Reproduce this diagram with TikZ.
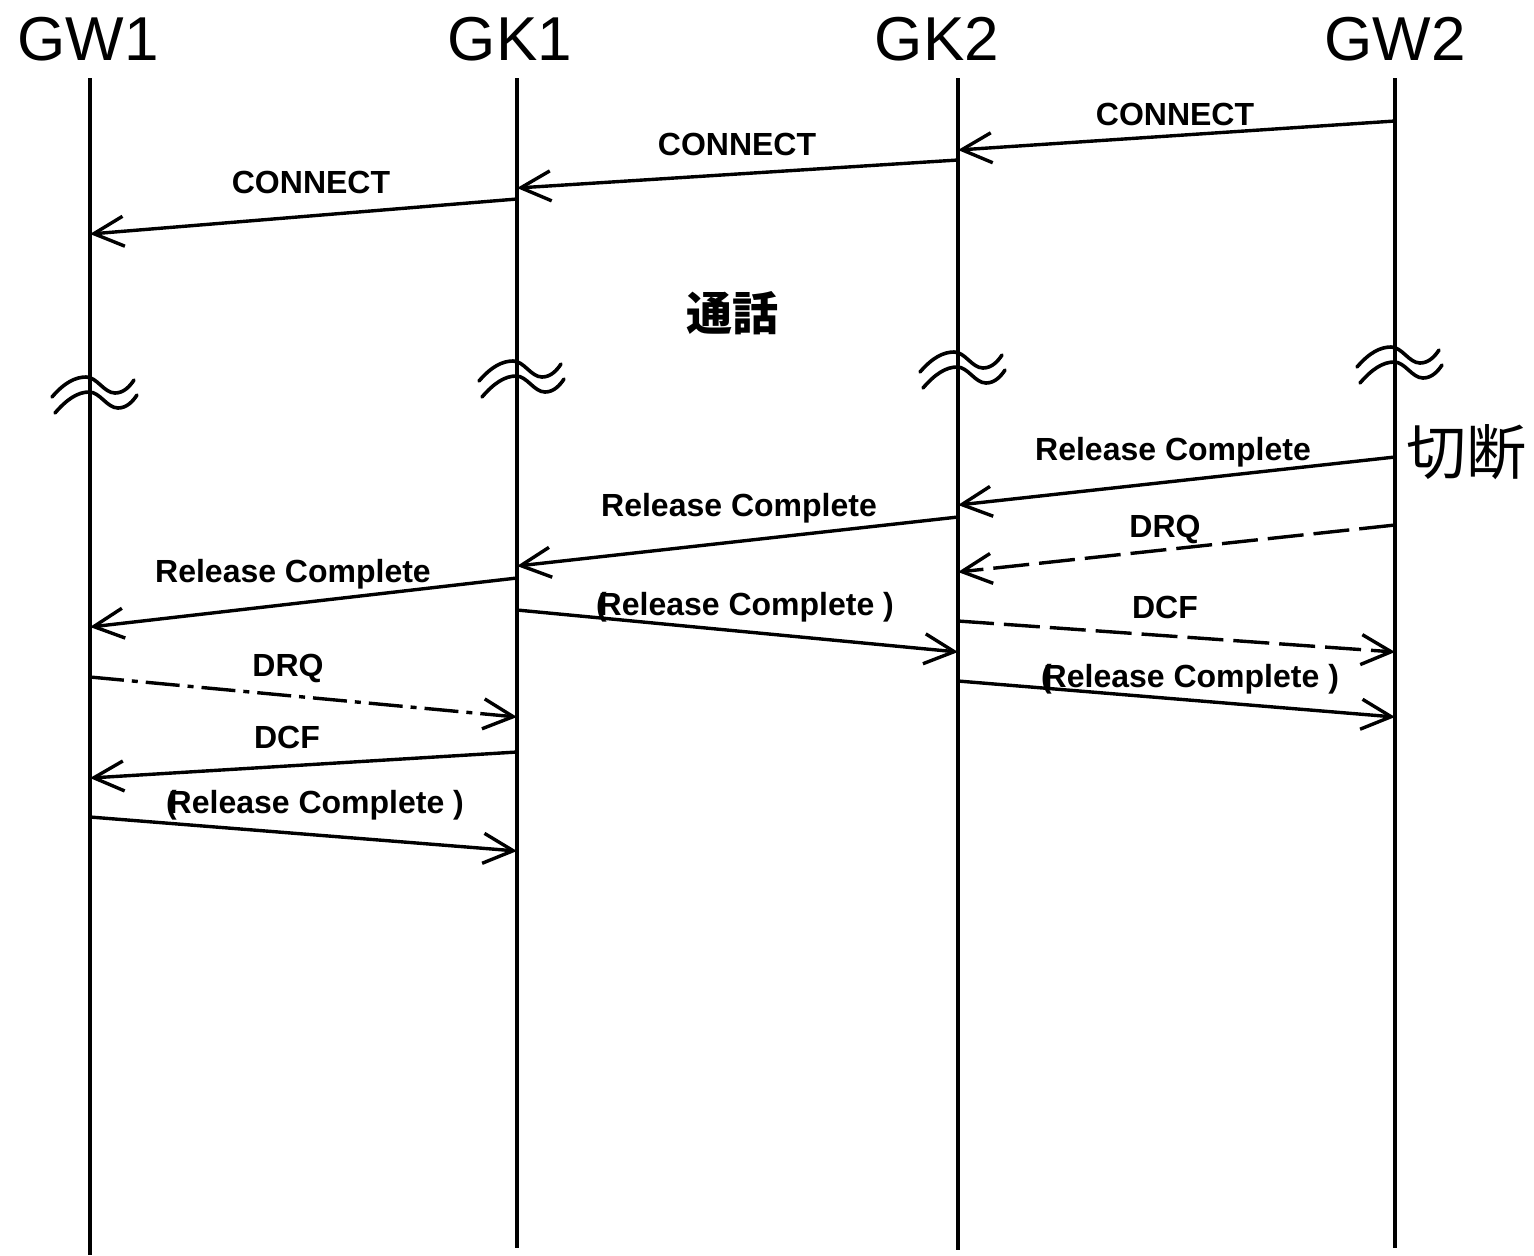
\documentclass[tikz,border=0pt]{standalone}
\usepackage{fontspec}
\setmainfont{Liberation Sans}
\newfontfamily\cjk{Noto Sans CJK JP}
\usetikzlibrary{arrows.meta}
\begin{document}
\begin{tikzpicture}[x=0.5pt,y=-0.5pt,
  head/.style={font=\fontsize{31}{35}\selectfont, anchor=base, inner sep=0pt},
  life/.style={line width=2pt},
  msg/.style={line width=1.7pt, -{Straight Barb[length=15pt,width=15pt,line width=1.7pt]}},
  dashmsg/.style={msg, dash pattern=on 18pt off 5pt},
  dotmsg/.style={msg, dash pattern=on 17pt off 4pt on 3pt off 4pt},
  lbl/.style={font=\fontsize{16}{19}\selectfont\bfseries, anchor=base, inner sep=0pt},
  brk/.style={line width=1.8pt, line cap=round}]
\useasboundingbox (0,0) rectangle (1534,1255);

% participants
\node[head] (GW1) at (88,60) {GW1};
\node[head] (GK1) at (510,60) {GK1};
\node[head] (GK2) at (937,60) {GK2};
\node[head] (GW2) at (1395,60) {GW2};

% lifelines
\coordinate (gw1t) at (90,78);   \coordinate (gw1b) at (90,1255);
\coordinate (gk1t) at (517,78);  \coordinate (gk1b) at (517,1248);
\coordinate (gk2t) at (958,78);  \coordinate (gk2b) at (958,1250);
\coordinate (gw2t) at (1395,78); \coordinate (gw2b) at (1395,1248);
\draw[life] (gw1t) -- (gw1b);
\draw[life] (gk1t) -- (gk1b);
\draw[life] (gk2t) -- (gk2b);
\draw[life] (gw2t) -- (gw2b);

% connection setup
\coordinate (a1) at (1395,121); \coordinate (b1) at (958,150);
\draw[msg] (a1) -- (b1);
\node[lbl] (l1) at (1175,125) {CONNECT};
\coordinate (a2) at (958,160); \coordinate (b2) at (517,188);
\draw[msg] (a2) -- (b2);
\node[lbl] (l2) at (737,155) {CONNECT};
\coordinate (a3) at (517,199); \coordinate (b3) at (90,234);
\draw[msg] (a3) -- (b3);
\node[lbl] (l3) at (311,193) {CONNECT};

\node[font=\cjk\bfseries\fontsize{23}{26}\selectfont, inner sep=0pt] (talk) at (732,313) {通話};

% time breaks on the lifelines
\newcommand\timebreak[2]{%
  \begin{scope}[shift={(#1,#2)}]
    \draw[brk] (-38,5) .. controls (-26,-9) and (-15,-15) .. (-4,-15)
       .. controls (7,-15) and (14,1) .. (25,1)
       .. controls (34,1) and (40,-6) .. (44,-12);
    \draw[brk] (-35,21) .. controls (-23,7) and (-12,0) .. (-1,0)
       .. controls (10,0) and (17,16) .. (28,16)
       .. controls (37,16) and (43,9) .. (47,3);
  \end{scope}}
\timebreak{90}{392}
\timebreak{517}{376}
\timebreak{958}{367}
\timebreak{1395}{362}

\node[font=\cjk\fontsize{30}{34}\selectfont, inner sep=0pt] (cut) at (1466,452) {切断};

% release
\coordinate (a5) at (1395,457); \coordinate (b5) at (958,505);
\draw[msg] (a5) -- (b5);
\node[lbl] (l5) at (1173,460) {Release Complete};
\coordinate (a6) at (958,517); \coordinate (b6) at (517,566);
\draw[msg] (a6) -- (b6);
\node[lbl] (l6) at (739,516) {Release Complete};
\coordinate (a7) at (1395,525); \coordinate (b7) at (958,572);
\draw[dashmsg] (a7) -- (b7);
\node[lbl] (l7) at (1165,537) {DRQ};
\coordinate (a8) at (517,578); \coordinate (b8) at (90,627);
\draw[msg] (a8) -- (b8);
\node[lbl] (l8) at (293,582) {Release Complete};
\coordinate (a9) at (517,610); \coordinate (b9) at (958,652);
\draw[msg] (a9) -- (b9);
\node[lbl] (l9) at (745,615) {(\kern-4pt Release Complete )};
\coordinate (a10) at (958,621); \coordinate (b10) at (1395,652);
\draw[dashmsg] (a10) -- (b10);
\node[lbl] (l10) at (1165,618) {DCF};
\coordinate (a11) at (958,681); \coordinate (b11) at (1395,717);
\draw[msg] (a11) -- (b11);
\node[lbl] (l11) at (1190,687) {(\kern-4pt Release Complete )};
\coordinate (a12) at (90,677); \coordinate (b12) at (517,717);
\draw[dotmsg] (a12) -- (b12);
\node[lbl] (l12) at (288,676) {DRQ};
\coordinate (a13) at (517,752); \coordinate (b13) at (90,778);
\draw[msg] (a13) -- (b13);
\node[lbl] (l13) at (287,748) {DCF};
\coordinate (a14) at (90,817); \coordinate (b14) at (517,851);
\draw[msg] (a14) -- (b14);
\node[lbl] (l14) at (315,813) {(\kern-4pt Release Complete )};
\end{tikzpicture}
\end{document}
